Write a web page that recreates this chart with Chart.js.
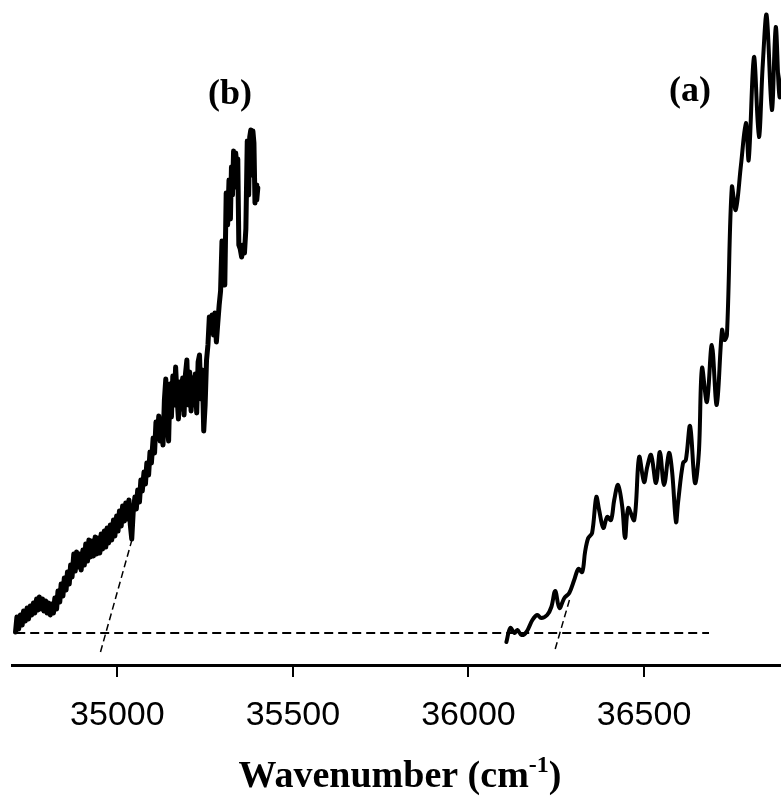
<!DOCTYPE html>
<html>
<head>
<meta charset="utf-8">
<script src="https://cdn.jsdelivr.net/npm/chart.js@4/dist/chart.umd.min.js"></script>
<style>
  body { margin: 0; background: #fff; overflow: hidden; }
  canvas { display: block; }
</style>
</head>
<body>
<canvas id="spectrum" width="781" height="797"></canvas>
<script>
// spectrum (b)
const bWavenumber = [34710,34714,34719,34724,34729,34733,34738,34743,34747,34752,34756,34761,34765,34770,34774,34778,34783,34787,34791,34796,
  34800,34804,34809,34813,34818,34822,34827,34831,34836,34840,34845,34849,34854,34858,34863,34867,34871,34876,34880,34884,
  34889,34893,34897,34902,34906,34910,34915,34919,34923,34928,34932,34937,34941,34945,34950,34954,34958,34963,34967,34971,
  34975,34980,34984,34989,34993,34998,35002,35006,35011,35015,35020,35024,35028,35033,35037,35041,35045,35050,35054,35058,
  35063,35067,35071,35076,35080,35084,35089,35093,35097,35102,35106,35110,35114,35118,35122,35126,35130,35134,35138,35142,
  35146,35150,35154,35158,35162,35166,35170,35174,35178,35182,35186,35190,35194,35198,35202,35206,35210,35214,35218,35222,
  35226,35230,35234,35238,35242,35246,35250,35254,35258,35262,35266,35270,35274,35278,35282,35286,35290,35294,35298,35302,
  35306,35310,35314,35318,35322,35325,35328,35331,35334,35337,35340,35343,35346,35350,35354,35358,35362,35366,35370,35374,
  35377,35380,35383,35386,35389,35392,35395,35397,35400];
const bIntensity = [33,48,36,50,40,54,44,57,46,59,50,62,52,66,55,68,56,66,54,64,
  52,62,50,61,52,67,56,74,63,81,69,87,75,93,81,100,88,111,94,113,
  98,111,95,115,100,121,104,125,108,124,109,128,111,127,112,131,116,134,118,137,
  122,140,125,145,129,149,134,154,139,159,144,162,146,165,140,126,152,168,156,175,
  163,185,174,193,181,202,190,213,202,227,212,243,228,249,224,241,220,265,286,240,
  224,281,248,289,260,298,268,246,283,256,287,250,291,305,260,293,254,287,260,291,
  252,303,310,266,295,234,260,305,320,348,334,350,330,352,323,342,360,374,424,396,
  380,472,440,485,446,498,470,514,478,512,500,506,420,416,408,420,412,436,524,470,
  528,535,490,534,522,462,480,465,477];

// spectrum (a)
const aWavenumber = [36108,36119,36131,36139,36151,36165,36182,36196,36207,36224,36236,36247,36259,36273,36287,36301,36313,36324,36332,36341,
  36352,36364,36372,36384,36395,36406,36415,36426,36438,36446,36455,36472,36486,36500,36509,36520,36534,36545,36557,36571,
  36580,36591,36597,36611,36619,36631,36645,36656,36665,36679,36693,36707,36722,36729,36736,36750,36761,36776,36790,36798,
  36813,36827,36838,36849,36864,36875,36886,36898];
const aIntensity = [23,37,32,35,30,33,45,50,47,50,58,74,57,67,72,85,96,93,113,127,
  132,168,155,137,148,145,165,180,158,127,157,145,208,183,198,210,182,213,180,212,
  193,143,163,202,205,239,182,212,297,263,320,260,335,325,330,478,455,500,542,505,
  608,528,600,650,555,638,568,600];

// dashed guide lines
const baselineX = [34712, 36685];
const baselineY = [32, 32];
const tangentBX = [34952, 35043];
const tangentBY = [13, 127];
const tangentAX = [36247, 36290];
const tangentAY = [16, 68];

const xTicks = [35000, 35500, 36000, 36500];

function toPoints(xs, ys) {
  return xs.map((x, i) => ({ x: x, y: ys[i] }));
}

const textPlugin = {
  id: 'texts',
  afterDraw(chart) {
    const ctx = chart.ctx;
    const xs = chart.scales.x;
    ctx.save();
    ctx.fillStyle = '#000';
    ctx.textBaseline = 'alphabetic';
    ctx.textAlign = 'center';
    ctx.font = 'bold 36px "Liberation Serif", "Times New Roman", serif';
    ctx.fillText('(b)', xs.getPixelForValue(35321), 104);
    ctx.fillText('(a)', xs.getPixelForValue(36631), 101);

    // axis title with superscript
    const big = 'bold 38px "Liberation Serif", "Times New Roman", serif';
    const small = 'bold 24px "Liberation Serif", "Times New Roman", serif';
    const p1 = 'Wavenumber (cm', sup = '-1', p2 = ')';
    ctx.textAlign = 'left';
    ctx.font = big;
    const w1 = ctx.measureText(p1).width, w3 = ctx.measureText(p2).width;
    ctx.font = small;
    const w2 = ctx.measureText(sup).width;
    let x0 = 400 - (w1 + w2 + w3) / 2;
    const base = 787;
    ctx.font = big;
    ctx.fillText(p1, x0, base);
    ctx.font = small;
    ctx.fillText(sup, x0 + w1, base - 15);
    ctx.font = big;
    ctx.fillText(p2, x0 + w1 + w2, base);
    ctx.restore();
  }
};

new Chart(document.getElementById('spectrum').getContext('2d'), {
  type: 'line',
  data: {
    datasets: [
      { data: toPoints(bWavenumber, bIntensity), borderColor: '#000', borderWidth: 5, pointRadius: 0, tension: 0, borderJoinStyle: 'round', borderCapStyle: 'round' },
      { data: toPoints(aWavenumber, aIntensity), borderColor: '#000', borderWidth: 4, pointRadius: 0, tension: 0.35, borderCapStyle: 'round' },
      { data: toPoints(baselineX, baselineY), borderColor: '#000', borderWidth: 2, borderDash: [9, 5], pointRadius: 0 },
      { data: toPoints(tangentBX, tangentBY), borderColor: '#000', borderWidth: 1.5, borderDash: [7, 4], pointRadius: 0 },
      { data: toPoints(tangentAX, tangentAY), borderColor: '#000', borderWidth: 1.5, borderDash: [7, 4], pointRadius: 0 }
    ]
  },
  options: {
    responsive: false,
    animation: false,
    layout: { padding: { left: 12, right: 0, top: 0, bottom: 0 } },
    plugins: { legend: { display: false }, tooltip: { enabled: false } },
    scales: {
      x: {
        type: 'linear',
        min: 34700,
        max: 36890,
        afterBuildTicks: (scale) => { scale.ticks = xTicks.map(v => ({ value: v })); },
        afterFit: (scale) => { scale.height = 132; },
        border: { display: true, color: '#000', width: 3 },
        grid: { drawOnChartArea: false, drawTicks: true, tickLength: 12, color: '#000', lineWidth: 2 },
        ticks: {
          color: '#000',
          padding: 18,
          maxRotation: 0,
          font: { family: '"Liberation Sans", Arial, sans-serif', size: 34 },
          callback: (v) => String(v)
        }
      },
      y: { display: false, min: 0, max: 665 }
    }
  },
  plugins: [textPlugin]
});
</script>
</body>
</html>
